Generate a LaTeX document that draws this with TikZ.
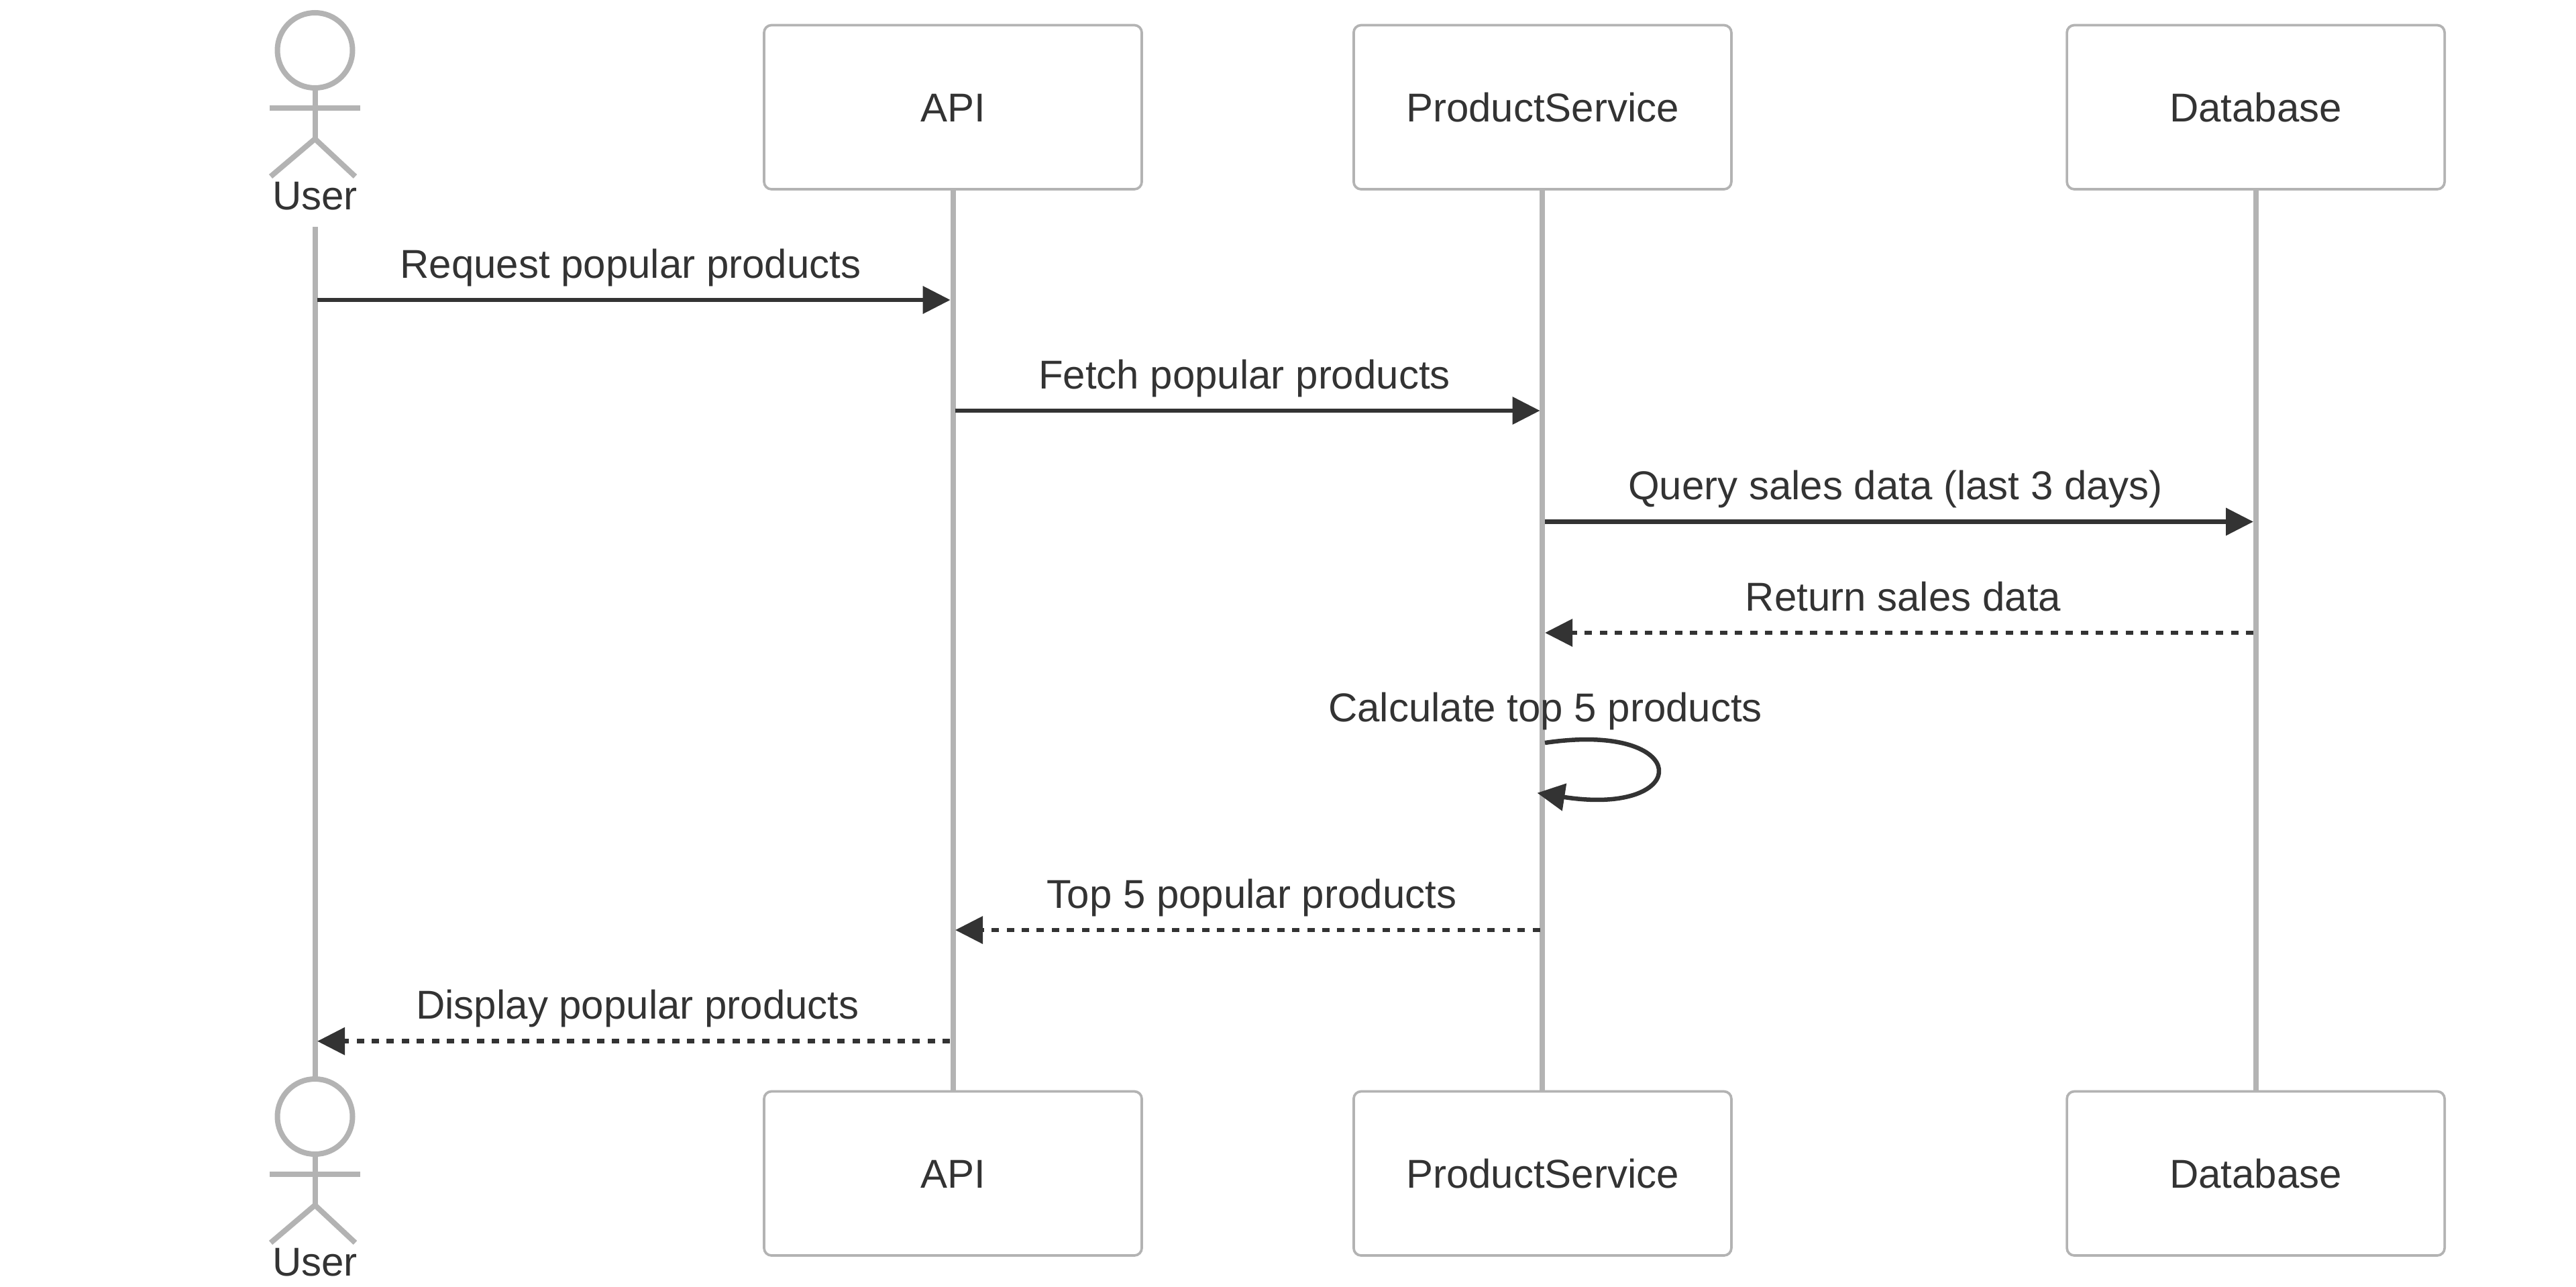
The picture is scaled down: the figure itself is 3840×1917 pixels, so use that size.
\documentclass[tikz,border=0pt]{standalone}
\usepackage{fontspec}
\setmainfont{Liberation Sans}
\usetikzlibrary{arrows.meta}
\definecolor{ink}{HTML}{333333}
\definecolor{rule}{HTML}{B3B3B3}
\tikzset{
  x=1pt,y=-1pt,
  every node/.style={font=\fontsize{60}{72}\selectfont,text=ink},
  actorbox/.style={draw=rule,fill=white,line width=3.7pt,rounded corners=11pt,
    minimum width=563pt,minimum height=244.5pt,inner sep=0pt,
    text height=42.5pt,text depth=0pt},
  lifeline/.style={draw=rule,line width=8pt},
  manline/.style={draw=rule,line width=8pt},
  msgline/.style={draw=ink,line width=6.5pt,-{Triangle[length=41pt,width=40pt]}},
  msgdash/.style={msgline,dash pattern=on 11pt off 11.4pt},
  msglabel/.style={anchor=base,inner sep=0pt},
  pics/actorman/.style={code={
    \node[circle,draw=rule,fill=white,line width=8pt,minimum size=112pt,inner sep=0pt] (-head) at (0,75) {};
    \coordinate (-neck) at (0,135);
    \coordinate (-hip) at (0,207);
    \coordinate (-armL) at (-67.5,161);
    \coordinate (-armR) at (67.5,161);
    \coordinate (-legL) at (-66,263);
    \coordinate (-legR) at (60,263);
    \draw[manline] (-neck) -- (-hip);
    \draw[manline] (-armL) -- (-armR);
    \draw[manline] (-legL) -- (-hip) -- (-legR);
    \node[msglabel] (-label) at (0,312) {User};
  }},
}
\begin{document}
\begin{tikzpicture}
\path[use as bounding box,fill=white] (0,0) rectangle (3840,1917);

% lifeline ends
\coordinate (ustart) at (469.5,338);
\coordinate (uend) at (469.5,1605);

% participants
\node[actorbox] (apiT) at (1420.5,159.75) {API};
\node[actorbox] (psT) at (2299.4,159.75) {ProductService};
\node[actorbox] (dbT) at (3362.6,159.75) {Database};
\node[actorbox] (apiB) at (1420.5,1748.75) {API};
\node[actorbox] (psB) at (2299.4,1748.75) {ProductService};
\node[actorbox] (dbB) at (3362.6,1748.75) {Database};

% lifelines
\draw[lifeline] (ustart) -- (uend);
\draw[lifeline,xshift=-0.5pt] (apiT.south) -- (apiB.north);
\draw[lifeline] (psT.south) -- (psB.north);
\draw[lifeline] (dbT.south) -- (dbB.north);

\pic (ut) at (469.5,0) {actorman};
\pic (ub) at (469.5,1589) {actorman};

% message end points
\coordinate (m1a) at (473,447);      \coordinate (m1b) at (1416.7,447);
\coordinate (m2a) at (1424,612);     \coordinate (m2b) at (2295.6,612);
\coordinate (m3a) at (2303,777.5);   \coordinate (m3b) at (3359,777.5);
\coordinate (m4a) at (3359,943);     \coordinate (m4b) at (2303,943);
\coordinate (m5a) at (2303,1107);    \coordinate (m5b) at (2291.5,1181.7);
\coordinate (m5c) at (2525,1074);    \coordinate (m5d) at (2525,1218);
\coordinate (m6a) at (2295.6,1386);  \coordinate (m6b) at (1424,1386);
\coordinate (m7a) at (1416.2,1551.7);\coordinate (m7b) at (473,1551.7);

\draw[msgline] (m1a) -- (m1b);
\draw[msgline] (m2a) -- (m2b);
\draw[msgline] (m3a) -- (m3b);
\draw[msgdash] (m4a) -- (m4b);
\draw[msgline] (m5a) .. controls (m5c) and (m5d) .. (m5b);
\draw[msgdash] (m6a) -- (m6b);
\draw[msgdash] (m7a) -- (m7b);

% message labels
\node[msglabel] (l1) at (940,414) {Request popular products};
\node[msglabel] (l2) at (1855,579) {Fetch popular products};
\node[msglabel] (l3) at (2825.5,744) {Query sales data (last 3 days)};
\node[msglabel] (l4) at (2837,910) {Return sales data};
\node[msglabel] (l5) at (2303.5,1075) {Calculate top 5 products};
\node[msglabel] (l6) at (1866,1353) {Top 5 popular products};
\node[msglabel] (l7) at (950.5,1518) {Display popular products};
\end{tikzpicture}
\end{document}
